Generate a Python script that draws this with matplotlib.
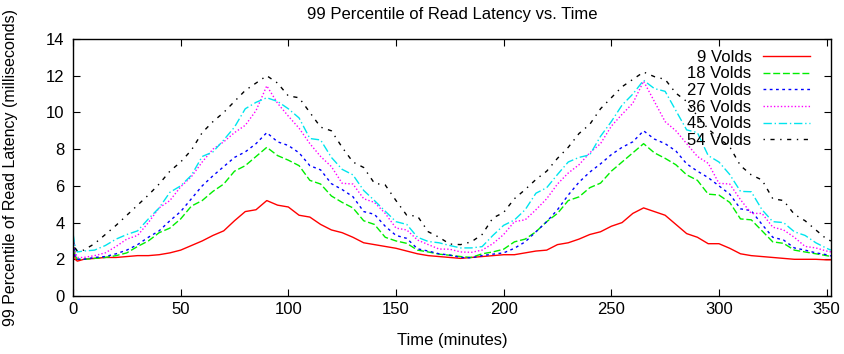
import matplotlib
matplotlib.use("Agg")
import matplotlib.pyplot as plt

plt.rcParams['font.family'] = ['Liberation Sans', 'DejaVu Sans']

# time axis (minutes)
t = [0, 1, 2] + list(range(5, 351, 5)) + [352]

vold9 = [2.8, 2.0, 1.9,
         2.0, 2.05, 2.1, 2.1, 2.15, 2.2, 2.2, 2.25, 2.35, 2.5,
         2.75, 3.0, 3.3, 3.55, 4.1, 4.6, 4.7, 5.2, 4.95, 4.85,
         4.4, 4.3, 3.9, 3.6, 3.45, 3.2, 2.9, 2.8, 2.7, 2.6,
         2.45, 2.3, 2.2, 2.15, 2.1, 2.05, 2.1, 2.15, 2.2, 2.25,
         2.25, 2.35, 2.45, 2.5, 2.8, 2.9, 3.1, 3.35, 3.5, 3.8,
         4.0, 4.5, 4.8, 4.6, 4.4, 3.9, 3.4, 3.2, 2.85, 2.85,
         2.6, 2.3, 2.2, 2.15, 2.1, 2.05, 2.0, 2.0, 2.0, 1.97,
         1.97]
vold18 = [3.2, 2.2, 2.0,
          2.0, 2.05, 2.1, 2.2, 2.35, 2.7, 3.0, 3.45, 3.7, 4.2,
          4.9, 5.2, 5.7, 6.1, 6.8, 7.1, 7.6, 8.1, 7.65, 7.4,
          7.1, 6.3, 6.1, 5.45, 5.1, 4.8, 4.1, 3.9, 3.2, 3.0,
          2.87, 2.5, 2.4, 2.28, 2.22, 2.15, 2.1, 2.3, 2.4, 2.55,
          2.95, 3.1, 3.5, 4.05, 4.5, 5.2, 5.4, 5.9, 6.15, 6.8,
          7.3, 7.8, 8.3, 7.8, 7.5, 7.15, 6.6, 6.3, 5.55, 5.5,
          5.1, 4.2, 4.15, 3.55, 2.95, 2.87, 2.5, 2.4, 2.3, 2.2,
          2.15]
vold27 = [3.3, 2.1, 2.0,
          2.0, 2.1, 2.15, 2.3, 2.5, 2.8, 3.2, 3.55, 4.1, 4.6,
          5.3, 6.0, 6.55, 7.05, 7.55, 7.85, 8.3, 8.9, 8.4, 8.2,
          7.8, 7.1, 6.87, 6.12, 5.8, 5.41, 4.6, 4.45, 3.8, 3.3,
          3.14, 2.57, 2.45, 2.3, 2.23, 2.1, 2.08, 2.2, 2.28, 2.35,
          2.6, 2.95, 3.5, 4.05, 4.7, 5.5, 6.2, 6.75, 7.2, 7.7,
          8.1, 8.4, 9.0, 8.55, 8.3, 7.9, 7.2, 6.8, 6.45, 6.0,
          5.55, 4.75, 4.65, 3.9, 3.2, 3.05, 2.62, 2.5, 2.35, 2.25,
          2.18]
vold36 = [3.2, 2.4, 2.1,
          2.1, 2.2, 2.35, 2.7, 3.1, 3.3, 4.0, 4.8, 5.2, 5.95,
          6.5, 7.3, 8.0, 8.4, 8.9, 9.3, 10.1, 11.45, 10.5, 9.8,
          9.14, 8.3, 7.6, 7.05, 6.14, 6.1, 5.3, 5.1, 4.5, 3.7,
          3.6, 3.05, 2.8, 2.56, 2.55, 2.4, 2.38, 2.5, 2.85, 3.35,
          4.05, 4.15, 4.7, 5.3, 6.1, 6.7, 7.15, 7.8, 8.3, 9.25,
          9.9, 10.5, 11.7, 10.6, 9.5, 9.0, 8.3, 7.6, 7.23, 6.14,
          6.1, 5.25, 4.5, 4.5, 3.75, 3.6, 3.2, 2.7, 2.62, 2.45,
          2.4]
vold45 = [3.4, 2.7, 2.4,
          2.45, 2.5, 2.75, 3.1, 3.35, 3.55, 4.2, 4.8, 5.65, 6.0,
          6.58, 7.6, 7.85, 8.5, 9.2, 10.2, 10.55, 10.8, 10.6, 10.2,
          9.7, 8.58, 8.5, 7.55, 6.9, 6.6, 5.75, 5.2, 4.62, 4.05,
          3.9, 3.2, 2.97, 2.9, 2.75, 2.62, 2.62, 2.69, 3.3, 3.85,
          4.14, 4.7, 5.6, 5.9, 6.62, 7.3, 7.55, 7.69, 8.7, 9.5,
          10.4, 11.0, 11.75, 11.3, 11.15, 10.1, 9.05, 8.9, 7.65, 7.3,
          6.62, 5.7, 5.68, 4.7, 4.05, 4.0, 3.5, 3.3, 2.9, 2.6,
          2.5]
vold54 = [3.0, 2.6, 2.45,
          2.5, 2.85, 3.35, 3.85, 4.4, 4.95, 5.5, 6.1, 6.8, 7.3,
          7.95, 8.9, 9.5, 10.0, 10.6, 11.2, 11.6, 12.0, 11.6, 10.9,
          10.8, 10.0, 9.2, 9.0, 8.1, 7.3, 7.0, 6.14, 6.05, 5.2,
          4.4, 4.35, 3.5, 3.2, 2.83, 2.8, 2.95, 3.35, 4.25, 4.55,
          5.3, 5.8, 6.35, 6.8, 7.5, 8.1, 8.85, 9.35, 10.2, 10.8,
          11.4, 11.8, 12.2, 11.95, 11.8, 11.05, 10.6, 9.8, 9.1, 8.6,
          8.13, 7.1, 6.6, 6.32, 5.3, 5.2, 4.45, 4.1, 3.6, 3.1,
          3.0]

labels = ["9 Volds", "18 Volds", "27 Volds", "36 Volds", "45 Volds", "54 Volds"]
series = [vold9, vold18, vold27, vold36, vold45, vold54]
colors = ["#ff0000", "#00ee00", "#0000ff", "#ff00ff", "#00e5ee", "#000000"]
dashes = [None, (5, 2), (2, 2.5), (1, 1.5), (6, 2, 1, 2), (1, 4, 3, 4)]

fig = plt.figure(figsize=(8.44, 3.54), dpi=100)
ax = fig.add_axes([0.0865, 0.1638, 0.898, 0.726])

for y, lab, c, d in zip(series, labels, colors, dashes):
    line, = ax.plot(t, y, color=c, lw=1.0, label=lab)
    if d is not None:
        line.set_dashes(d)

ax.set_xlim(0, 352)
ax.set_ylim(0, 14)
ax.set_xticks(range(0, 351, 50))
ax.set_yticks(range(0, 15, 2))
ax.tick_params(direction='in', top=True, right=True, length=5, labelsize=12)
ax.tick_params(axis='x', pad=4)
ax.tick_params(axis='y', pad=6)
for s in ax.spines.values():
    s.set_linewidth(1.0)

fig.text(0.5355, 0.96, "99 Percentile of Read Latency vs. Time", fontsize=12,
         ha='center', va='center')
ax.set_xlabel("Time (minutes)", fontsize=12, labelpad=12)
ax.set_ylabel("99 Percentile of Read Latency (milliseconds)", fontsize=11.5, labelpad=20)

ax.legend(loc='upper right', bbox_to_anchor=(0.9723, 0.958), frameon=False,
          markerfirst=False, fontsize=12, handlelength=2.8, handletextpad=0.7,
          labelspacing=0.1, borderpad=0, borderaxespad=0)

fig.savefig("out.png", dpi=100)
